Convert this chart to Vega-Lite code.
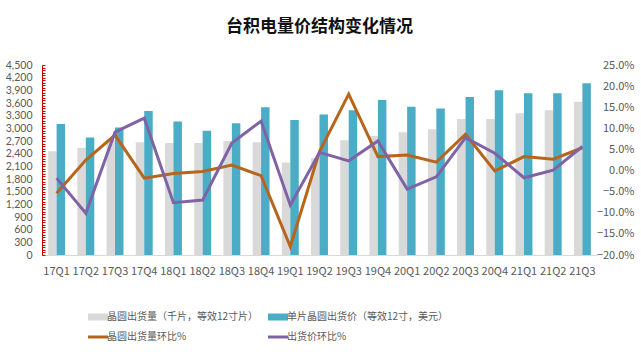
{
  "$schema": "https://vega.github.io/schema/vega-lite/v6.json",
  "width": 555,
  "height": 190,
  "autosize": {"type": "none"},
  "padding": {"left": 42, "top": 65, "right": 44, "bottom": 99},
  "background": "#ffffff",
  "config": {
    "font": "Noto Sans CJK SC",
    "view": {"stroke": null},
    "axis": {"labelFont": "Noto Sans CJK SC", "labelColor": "#595959", "labelFontSize": 11, "grid": false}
  },
  "title": {"text": "台积电量价结构变化情况", "fontSize": 17, "fontWeight": "bold", "color": "#111111", "anchor": "middle", "offset": 23, "font": "Noto Sans CJK SC"},
  "data": {"values": [
    {"q": "17Q1", "series": "晶圆出货量（千片，等效12寸片）", "value": 2460},
    {"q": "17Q2", "series": "晶圆出货量（千片，等效12寸片）", "value": 2540},
    {"q": "17Q3", "series": "晶圆出货量（千片，等效12寸片）", "value": 2730},
    {"q": "17Q4", "series": "晶圆出货量（千片，等效12寸片）", "value": 2670},
    {"q": "18Q1", "series": "晶圆出货量（千片，等效12寸片）", "value": 2650},
    {"q": "18Q2", "series": "晶圆出货量（千片，等效12寸片）", "value": 2650},
    {"q": "18Q3", "series": "晶圆出货量（千片，等效12寸片）", "value": 2700},
    {"q": "18Q4", "series": "晶圆出货量（千片，等效12寸片）", "value": 2670},
    {"q": "19Q1", "series": "晶圆出货量（千片，等效12寸片）", "value": 2190},
    {"q": "19Q2", "series": "晶圆出货量（千片，等效12寸片）", "value": 2290},
    {"q": "19Q3", "series": "晶圆出货量（千片，等效12寸片）", "value": 2720},
    {"q": "19Q4", "series": "晶圆出货量（千片，等效12寸片）", "value": 2820},
    {"q": "20Q1", "series": "晶圆出货量（千片，等效12寸片）", "value": 2910},
    {"q": "20Q2", "series": "晶圆出货量（千片，等效12寸片）", "value": 2980},
    {"q": "20Q3", "series": "晶圆出货量（千片，等效12寸片）", "value": 3220},
    {"q": "20Q4", "series": "晶圆出货量（千片，等效12寸片）", "value": 3220},
    {"q": "21Q1", "series": "晶圆出货量（千片，等效12寸片）", "value": 3360},
    {"q": "21Q2", "series": "晶圆出货量（千片，等效12寸片）", "value": 3430},
    {"q": "21Q3", "series": "晶圆出货量（千片，等效12寸片）", "value": 3630},
    {"q": "17Q1", "series": "单片晶圆出货价（等效12寸，美元）", "value": 3100},
    {"q": "17Q2", "series": "单片晶圆出货价（等效12寸，美元）", "value": 2780},
    {"q": "17Q3", "series": "单片晶圆出货价（等效12寸，美元）", "value": 3020},
    {"q": "17Q4", "series": "单片晶圆出货价（等效12寸，美元）", "value": 3410},
    {"q": "18Q1", "series": "单片晶圆出货价（等效12寸，美元）", "value": 3160},
    {"q": "18Q2", "series": "单片晶圆出货价（等效12寸，美元）", "value": 2940},
    {"q": "18Q3", "series": "单片晶圆出货价（等效12寸，美元）", "value": 3120},
    {"q": "18Q4", "series": "单片晶圆出货价（等效12寸，美元）", "value": 3500},
    {"q": "19Q1", "series": "单片晶圆出货价（等效12寸，美元）", "value": 3200},
    {"q": "19Q2", "series": "单片晶圆出货价（等效12寸，美元）", "value": 3330},
    {"q": "19Q3", "series": "单片晶圆出货价（等效12寸，美元）", "value": 3430},
    {"q": "19Q4", "series": "单片晶圆出货价（等效12寸，美元）", "value": 3670},
    {"q": "20Q1", "series": "单片晶圆出货价（等效12寸，美元）", "value": 3510},
    {"q": "20Q2", "series": "单片晶圆出货价（等效12寸，美元）", "value": 3470},
    {"q": "20Q3", "series": "单片晶圆出货价（等效12寸，美元）", "value": 3740},
    {"q": "20Q4", "series": "单片晶圆出货价（等效12寸，美元）", "value": 3900},
    {"q": "21Q1", "series": "单片晶圆出货价（等效12寸，美元）", "value": 3830},
    {"q": "21Q2", "series": "单片晶圆出货价（等效12寸，美元）", "value": 3830},
    {"q": "21Q3", "series": "单片晶圆出货价（等效12寸，美元）", "value": 4070},
    {"q": "17Q1", "series": "晶圆出货量环比%", "value": -5.4},
    {"q": "17Q2", "series": "晶圆出货量环比%", "value": 2.5},
    {"q": "17Q3", "series": "晶圆出货量环比%", "value": 8.4},
    {"q": "17Q4", "series": "晶圆出货量环比%", "value": -1.8},
    {"q": "18Q1", "series": "晶圆出货量环比%", "value": -0.7},
    {"q": "18Q2", "series": "晶圆出货量环比%", "value": -0.2},
    {"q": "18Q3", "series": "晶圆出货量环比%", "value": 1.3},
    {"q": "18Q4", "series": "晶圆出货量环比%", "value": -1.2},
    {"q": "19Q1", "series": "晶圆出货量环比%", "value": -18.0},
    {"q": "19Q2", "series": "晶圆出货量环比%", "value": 4.5},
    {"q": "19Q3", "series": "晶圆出货量环比%", "value": 18.1},
    {"q": "19Q4", "series": "晶圆出货量环比%", "value": 3.3},
    {"q": "20Q1", "series": "晶圆出货量环比%", "value": 3.7},
    {"q": "20Q2", "series": "晶圆出货量环比%", "value": 2.0},
    {"q": "20Q3", "series": "晶圆出货量环比%", "value": 8.6},
    {"q": "20Q4", "series": "晶圆出货量环比%", "value": -0.1},
    {"q": "21Q1", "series": "晶圆出货量环比%", "value": 3.3},
    {"q": "21Q2", "series": "晶圆出货量环比%", "value": 2.7},
    {"q": "21Q3", "series": "晶圆出货量环比%", "value": 5.4},
    {"q": "17Q1", "series": "出货价环比%", "value": -1.8},
    {"q": "17Q2", "series": "出货价环比%", "value": -10.1},
    {"q": "17Q3", "series": "出货价环比%", "value": 9.1},
    {"q": "17Q4", "series": "出货价环比%", "value": 12.4},
    {"q": "18Q1", "series": "出货价环比%", "value": -7.6},
    {"q": "18Q2", "series": "出货价环比%", "value": -7.0},
    {"q": "18Q3", "series": "出货价环比%", "value": 6.5},
    {"q": "18Q4", "series": "出货价环比%", "value": 11.7},
    {"q": "19Q1", "series": "出货价环比%", "value": -8.2},
    {"q": "19Q2", "series": "出货价环比%", "value": 4.3},
    {"q": "19Q3", "series": "出货价环比%", "value": 2.3},
    {"q": "19Q4", "series": "出货价环比%", "value": 7.0},
    {"q": "20Q1", "series": "出货价环比%", "value": -4.4},
    {"q": "20Q2", "series": "出货价环比%", "value": -1.5},
    {"q": "20Q3", "series": "出货价环比%", "value": 7.8},
    {"q": "20Q4", "series": "出货价环比%", "value": 4.1},
    {"q": "21Q1", "series": "出货价环比%", "value": -1.7},
    {"q": "21Q2", "series": "出货价环比%", "value": 0.1},
    {"q": "21Q3", "series": "出货价环比%", "value": 5.7}
  ]},
  "encoding": {
    "x": {
      "field": "q", "type": "ordinal", "sort": null,
      "scale": {"paddingInner": 0.42, "paddingOuter": 0.21},
      "axis": {"title": null, "labelAngle": 0, "ticks": false, "domainColor": "#d9d9d9", "labelPadding": 10, "labelFontSize": 11}
    },
    "color": {
      "field": "series", "type": "nominal",
      "scale": {
        "domain": ["晶圆出货量（千片，等效12寸片）", "单片晶圆出货价（等效12寸，美元）", "晶圆出货量环比%", "出货价环比%"],
        "range": ["#d9d9d9", "#4bacc6", "#b7651b", "#7f63a4"]
      },
      "legend": {
        "title": null, "orient": "none", "legendX": 51, "legendY": 247,
        "direction": "horizontal", "columns": 2, "gridAlign": "each",
        "symbolSize": 400, "labelFontSize": 10, "labelColor": "#595959", "labelFont": "Noto Sans CJK SC",
        "labelOffset": 4, "columnPadding": 3, "rowPadding": 9, "labelLimit": 300,
        "encode": {
          "symbols": {
            "update": {
              "shape": {"signal": "(datum.value === '晶圆出货量环比%' || datum.value === '出货价环比%') ? 'M-1,0H1' : 'M-1,-0.35H1V0.35H-1Z'"},
              "strokeWidth": {"signal": "(datum.value === '晶圆出货量环比%' || datum.value === '出货价环比%') ? 3 : 0"},
              "fill": {"scale": "color", "field": "value"},
              "stroke": {"scale": "color", "field": "value"},
              "opacity": {"value": 1},
              "fillOpacity": {"value": 1},
              "strokeOpacity": {"value": 1}
            }
          }
        }
      }
    }
  },
  "layer": [
    {
      "transform": [{"filter": {"field": "series", "oneOf": ["晶圆出货量（千片，等效12寸片）", "单片晶圆出货价（等效12寸，美元）"]}}],
      "mark": {"type": "bar"},
      "encoding": {
        "xOffset": {"field": "series", "type": "nominal", "scale": {"domain": ["晶圆出货量（千片，等效12寸片）", "单片晶圆出货价（等效12寸，美元）"], "paddingInner": 0, "paddingOuter": 0}},
        "y": {
          "field": "value", "type": "quantitative",
          "scale": {"domain": [0, 4500], "nice": false},
          "axis": {
            "title": null, "orient": "left",
            "values": [0,60,120,180,240,300,360,420,480,540,600,660,720,780,840,900,960,1020,1080,1140,1200,1260,1320,1380,1440,1500,1560,1620,1680,1740,1800,1860,1920,1980,2040,2100,2160,2220,2280,2340,2400,2460,2520,2580,2640,2700,2760,2820,2880,2940,3000,3060,3120,3180,3240,3300,3360,3420,3480,3540,3600,3660,3720,3780,3840,3900,3960,4020,4080,4140,4200,4260,4320,4380,4440,4500],
            "labelExpr": "datum.value % 300 === 0 ? format(datum.value, ',') : ''",
            "labelOverlap": false, "labelFlush": false, "labelFontSize": 10.5, "labelFont": "Lato",
            "domainColor": "#c00000", "tickColor": "#c00000", "tickSize": -3,
            "labelPadding": 13
          }
        }
      }
    },
    {
      "transform": [{"filter": {"field": "series", "oneOf": ["晶圆出货量环比%", "出货价环比%"]}}],
      "mark": {"type": "line", "strokeWidth": 3},
      "encoding": {
        "y": {
          "field": "value", "type": "quantitative",
          "scale": {"domain": [-20, 25], "nice": false},
          "axis": {
            "title": null, "orient": "right",
            "values": [-20, -15, -10, -5, 0, 5, 10, 15, 20, 25],
            "labelExpr": "format(datum.value, '.1f') + '%'",
            "domain": false, "ticks": false, "labelAlign": "right", "labelPadding": 37, "labelFlush": false
          }
        }
      }
    }
  ],
  "resolve": {"scale": {"y": "independent"}}
}
